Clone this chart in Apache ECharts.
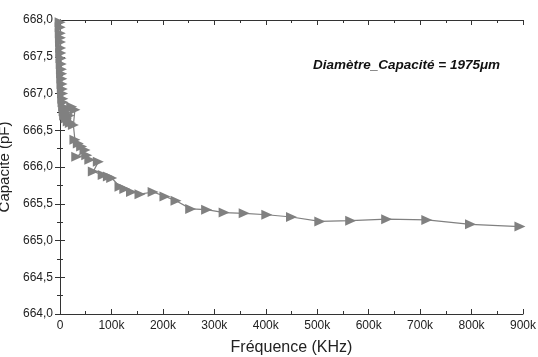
<!DOCTYPE html>
<html><head><meta charset="utf-8">
<script src="https://cdn.jsdelivr.net/npm/echarts@6/dist/echarts.min.js"></script>
<style>html,body{margin:0;padding:0;background:#fff}#c{width:538px;height:357px}</style>
</head><body><div id="c"></div>
<script>
// Frequency in kHz
const freqKHz = [0.1,0.2,0.4,0.6,0.8,1,1.3,1.6,2,2.4,2.8,3.2,3.6,4,4.5,5,5.5,6,7,8,9,10,12,14,16,18,20,22.7,29,26,29,35.6,42,48.6,32.5,52,58,74.5,64.7,84,94,100.5,116.6,126,139,155.5,181,204,225.5,254,285,319,358,402,450,505,565,635,713,798,894];
const capacitePF = [668.05,667.97,667.9,667.82,667.76,667.7,667.62,667.55,667.48,667.4,667.33,667.27,667.2,667.13,667.06,667.0,666.93,666.88,666.82,666.76,666.7,666.74,666.66,666.78,666.62,666.7,666.6,666.82,666.78,666.57,666.37,666.32,666.28,666.23,666.14,666.16,666.1,666.07,665.94,665.89,665.87,665.85,665.73,665.7,665.66,665.63,665.66,665.6,665.54,665.43,665.42,665.38,665.37,665.35,665.32,665.26,665.27,665.29,665.28,665.22,665.19];
const xTicks = [0,100,200,300,400,500,600,700,800,900];
const yTicks = [664,664.5,665,665.5,666,666.5,667,667.5,668];
const xTitle = 'Fréquence (KHz)';
const yTitle = 'Capacite (pF)';
const note = 'Diamètre_Capacité = 1975μm';

const chart = echarts.init(document.getElementById('c'));
const axisLine = {show:true, lineStyle:{color:'#333', width:1}};
const font = 'Liberation Sans, Arial, sans-serif';
const pts = freqKHz.map((f,i)=>[f,capacitePF[i]]);
chart.setOption({
  animation:false,
  grid:{left:60, right:15, top:20, bottom:43, containLabel:false, outerBoundsMode:'none'},
  xAxis:[{
    type:'value', min:xTicks[0], max:xTicks[xTicks.length-1], interval:100,
    axisLine, splitLine:{show:false},
    axisTick:{show:true, inside:true, length:5, lineStyle:{color:'#333'}},
    minorTick:{show:true, splitNumber:2, length:3, lineStyle:{color:'#333'}},
    axisLabel:{color:'#222', fontSize:12, fontFamily:font, margin:6,
      formatter:v=> v===0?'0':v+'k'},
    name:xTitle, nameLocation:'middle', nameGap:26,
    nameTextStyle:{color:'#222', fontSize:16, fontFamily:font}
  },{
    type:'value', position:'top', min:0, max:900, interval:100,
    axisLine, splitLine:{show:false}, axisLabel:{show:false},
    axisTick:{show:true, inside:true, length:5, lineStyle:{color:'#333'}},
    minorTick:{show:true, splitNumber:2, length:3, lineStyle:{color:'#333'}}
  }],
  yAxis:[{
    type:'value', min:yTicks[0], max:yTicks[yTicks.length-1], interval:0.5,
    axisLine, splitLine:{show:false},
    axisTick:{show:true, inside:true, length:5, lineStyle:{color:'#333'}},
    minorTick:{show:true, splitNumber:2, length:3, lineStyle:{color:'#333'}},
    axisLabel:{color:'#222', fontSize:12, fontFamily:font, margin:7,
      formatter:v=> v.toFixed(1).replace('.',',')},
    name:yTitle, nameLocation:'middle', nameGap:47, nameRotate:90,
    nameTextStyle:{color:'#222', fontSize:15, fontFamily:font}
  },{
    type:'value', position:'right', min:664, max:668, interval:0.5,
    axisLine, splitLine:{show:false}, axisLabel:{show:false},
    axisTick:{show:true, inside:true, length:5, lineStyle:{color:'#333'}},
    minorTick:{show:true, splitNumber:2, length:3, lineStyle:{color:'#333'}}
  }],
  graphic:[{
    type:'text', left:313, top:58,
    style:{text:note, fill:'#111', font:'italic bold 13.5px Liberation Sans, Arial, sans-serif'}
  }],
  series:[{
    type:'line', data:pts, xAxisIndex:0, yAxisIndex:0,
    symbol:'triangle', symbolSize:[10,11], symbolRotate:-90, showAllSymbol:true,
    itemStyle:{color:'#808080'}, lineStyle:{color:'#808080', width:1.2},
    clip:true
  }]
});
</script></body></html>
